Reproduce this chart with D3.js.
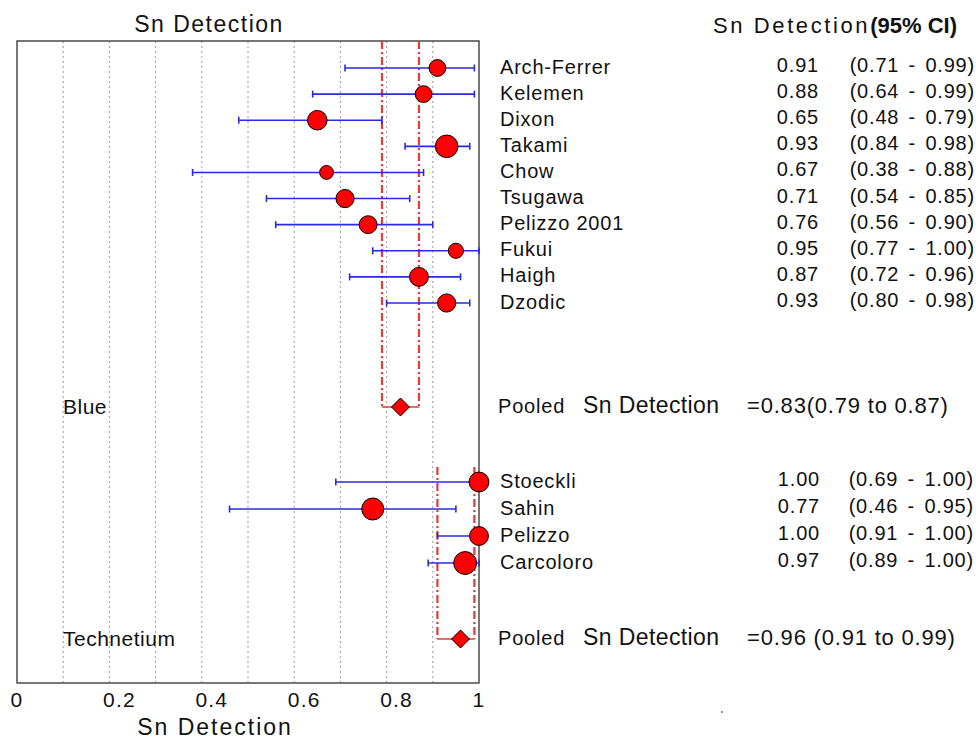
<!DOCTYPE html>
<html>
<head>
<meta charset="utf-8">
<script src="https://cdn.jsdelivr.net/npm/d3@7"></script>
<style>
  body { margin: 0; background: #fff; }
  text { font-family: "Liberation Sans", Arial, sans-serif; fill: #111; }
</style>
</head>
<body>
<svg id="chart" width="976" height="741"></svg>
<script>
// study rows, blue dye group
const blueStudies = ["Arch-Ferrer", "Kelemen", "Dixon", "Takami", "Chow", "Tsugawa", "Pelizzo 2001", "Fukui", "Haigh", "Dzodic"]
const blueSn = [0.91, 0.88, 0.65, 0.93, 0.67, 0.71, 0.76, 0.95, 0.87, 0.93]
const blueLo = [0.71, 0.64, 0.48, 0.84, 0.38, 0.54, 0.56, 0.77, 0.72, 0.80]
const blueHi = [0.99, 0.99, 0.79, 0.98, 0.88, 0.85, 0.90, 1.00, 0.96, 0.98]
const blueWeight = [22, 22, 30, 40, 15, 26, 25, 18, 28, 26]
const bluePooled = [0.83, 0.79, 0.87]

// technetium group
const techStudies = ["Stoeckli", "Sahin", "Pelizzo", "Carcoloro"]
const techSn = [1.00, 0.77, 1.00, 0.97]
const techLo = [0.69, 0.46, 0.91, 0.89]
const techHi = [1.00, 0.95, 1.00, 1.00]
const techWeight = [31, 38, 28, 41]
const techPooled = [0.96, 0.91, 0.99]

const xTicks = [0, 0.2, 0.4, 0.6, 0.8, 1]
const gridTicks = [0.1, 0.2, 0.3, 0.4, 0.5, 0.6, 0.7, 0.8, 0.9]

const frame = { left: 17, right: 479, top: 41, bottom: 683 }
const colors = { dot: '#ff0000', ci: '#2b2bdc', pooled: '#e23b3b', grid: '#9a9a9a', frame: '#555' }

const fmt = d3.format('.2f')

const svg = d3.select('#chart')

const x = d3.scaleLinear().domain([0, 1]).range([frame.left, frame.right])
const r = d3.scaleSqrt().domain([0, 40]).range([0, 11.3])

function rows(names, sn, lo, hi, w) {
    return names.map((name, i) => ({ name, sn: sn[i], lo: lo[i], hi: hi[i], w: w[i] }))
}

const groups = [
    { label: 'Blue', studies: rows(blueStudies, blueSn, blueLo, blueHi, blueWeight), pooled: bluePooled,
      y: d3.scalePoint().domain(blueStudies).range([68, 303]), pooledY: 407, lineTop: frame.top, ciEnd: 975, valEnd: 819 },
    { label: 'Technetium', studies: rows(techStudies, techSn, techLo, techHi, techWeight), pooled: techPooled,
      y: d3.scalePoint().domain(techStudies).range([482, 563]), pooledY: 639, lineTop: 467, ciEnd: 974, valEnd: 820 }
]

// grid
svg.append('g').selectAll('line')
    .data(gridTicks)
    .enter().append('line')
    .attr('x1', d => x(d)).attr('x2', d => x(d))
    .attr('y1', frame.top).attr('y2', frame.bottom)
    .attr('stroke', colors.grid)
    .attr('stroke-width', 1)
    .attr('stroke-dasharray', '2,3')

// frame
svg.append('rect')
    .attr('x', frame.left).attr('y', frame.top)
    .attr('width', frame.right - frame.left).attr('height', frame.bottom - frame.top)
    .attr('fill', 'none')
    .attr('stroke', colors.frame)
    .attr('stroke-width', 1.6)

// x tick labels (the source nudges the inner ones right)
svg.append('g').selectAll('text')
    .data(xTicks)
    .enter().append('text')
    .attr('x', d => x(d) + ((d > 0 && d < 1) ? 10 : 0))
    .attr('y', 707)
    .attr('text-anchor', 'middle')
    .attr('font-size', 21)
    .attr('letter-spacing', 1.2)
    .text(d3.format(''))

svg.append('text')
    .attr('x', 215).attr('y', 735)
    .attr('text-anchor', 'middle')
    .attr('font-size', 23)
    .attr('letter-spacing', 2)
    .text('Sn Detection')

svg.append('text')
    .attr('x', 209).attr('y', 32)
    .attr('text-anchor', 'middle')
    .attr('font-size', 23)
    .attr('letter-spacing', 1.5)
    .text('Sn Detection')

const head = svg.append('text')
    .attr('x', 713).attr('y', 33)
    .attr('font-size', 22)
head.append('tspan').attr('letter-spacing', 2.6).text('Sn Detection')
head.append('tspan').attr('font-weight', 'bold').text('(95% CI)')

groups.forEach(g => {
    const [est, lo, hi] = g.pooled

    // pooled CI bracket
    const pooledG = svg.append('g')
    pooledG.selectAll('line.v')
        .data([lo, hi])
        .enter().append('line')
        .attr('class', 'v')
        .attr('x1', d => x(d)).attr('x2', d => x(d))
        .attr('y1', g.lineTop).attr('y2', g.pooledY)
        .attr('stroke', colors.pooled)
        .attr('stroke-width', 2.2)
        .attr('stroke-dasharray', '8,3,2,3')
    pooledG.append('line')
        .attr('x1', x(lo)).attr('x2', x(hi))
        .attr('y1', g.pooledY).attr('y2', g.pooledY)
        .attr('stroke', colors.pooled)
        .attr('stroke-width', 1.5)

    const st = svg.append('g').selectAll('g.study')
        .data(g.studies)
        .enter().append('g')
        .attr('class', 'study')
        .attr('transform', d => `translate(0,${g.y(d.name)})`)

    st.append('line')
        .attr('x1', d => x(d.lo)).attr('x2', d => x(d.hi))
        .attr('stroke', colors.ci)
        .attr('stroke-width', 1.6)
    st.selectAll('line.cap')
        .data(d => [d.lo, d.hi])
        .enter().append('line')
        .attr('class', 'cap')
        .attr('x1', d => x(d)).attr('x2', d => x(d))
        .attr('y1', -3.5).attr('y2', 3.5)
        .attr('stroke', colors.ci)
        .attr('stroke-width', 1.6)
    st.append('circle')
        .attr('cx', d => x(d.sn))
        .attr('r', d => r(d.w))
        .attr('fill', colors.dot)
        .attr('stroke', '#000')
        .attr('stroke-width', 1)

    st.append('text')
        .attr('x', 500).attr('y', 5.5)
        .attr('font-size', 20)
        .attr('letter-spacing', 0.8)
        .text(d => d.name)
    st.append('text')
        .attr('x', g.valEnd).attr('y', 4)
        .attr('text-anchor', 'end')
        .attr('font-size', 20)
        .attr('letter-spacing', 0.8)
        .text(d => fmt(d.sn))
    st.append('text')
        .attr('x', g.ciEnd).attr('y', 4)
        .attr('text-anchor', 'end')
        .attr('font-size', 20)
        .attr('letter-spacing', 0.8)
        .attr('word-spacing', 3)
        .text(d => `(${fmt(d.lo)} - ${fmt(d.hi)})`)

    // pooled diamond
    const dm = 9
    svg.append('path')
        .attr('d', `M${x(est)},${g.pooledY - dm}L${x(est) + dm},${g.pooledY}L${x(est)},${g.pooledY + dm}L${x(est) - dm},${g.pooledY}Z`)
        .attr('fill', colors.dot)
        .attr('stroke', '#000')
        .attr('stroke-width', 1)

    svg.append('text')
        .attr('x', 63).attr('y', g.pooledY + 7)
        .attr('font-size', 21)
        .attr('letter-spacing', 0.5)
        .text(g.label)

    svg.append('text')
        .attr('x', 498).attr('y', g.pooledY + 6)
        .attr('font-size', 20)
        .attr('letter-spacing', 0.8)
        .text('Pooled')
    svg.append('text')
        .attr('x', 583).attr('y', g.pooledY + 6)
        .attr('font-size', 23)
        .attr('letter-spacing', 0.4)
        .text('Sn Detection')
    svg.append('text')
        .attr('x', 747).attr('y', g.pooledY + 6)
        .attr('font-size', 22)
        .attr('letter-spacing', 0.8)
        .text(g.label === 'Blue'
            ? `=${fmt(est)}(${fmt(lo)} to ${fmt(hi)})`
            : `=${fmt(est)} (${fmt(lo)} to ${fmt(hi)})`)
})

// stray dot in the source image
svg.append('circle').attr('cx', 722).attr('cy', 712).attr('r', 1).attr('fill', '#777')
</script>
</body>
</html>
